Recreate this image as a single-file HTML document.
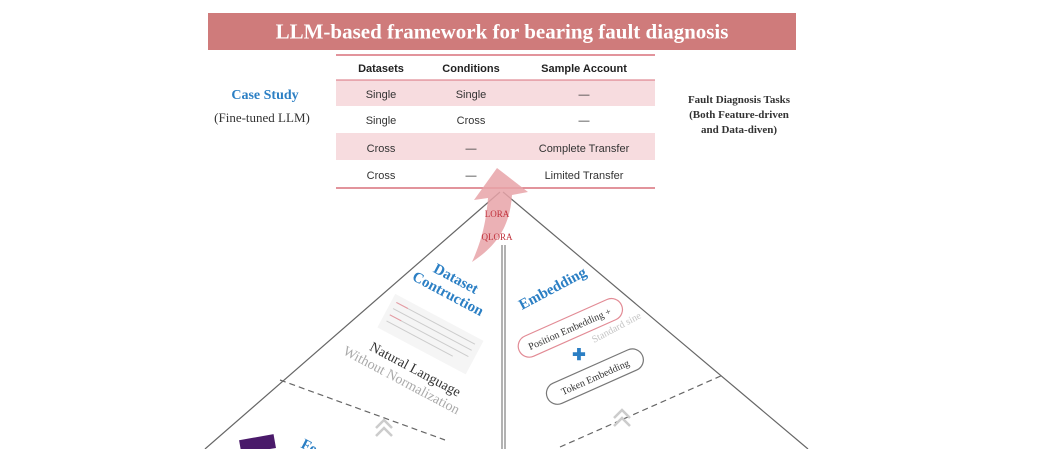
<!DOCTYPE html>
<html><head><meta charset="utf-8"><style>
html,body{margin:0;padding:0;background:#fff;width:1058px;height:449px;overflow:hidden}
svg{display:block}
.s{font-family:"Liberation Serif",serif}
.t{font-family:"Liberation Sans",sans-serif;font-size:11px;fill:#333}
</style></head><body>
<svg width="1058" height="449" viewBox="0 0 1058 449" xmlns="http://www.w3.org/2000/svg">
<rect x="208" y="13" width="588" height="37" fill="#cf7b7b"/>
<text x="502" y="38.5" text-anchor="middle" class="s" font-size="21" font-weight="bold" fill="#fff">LLM-based framework for bearing fault diagnosis</text>
<rect x="336" y="80" width="319" height="26" fill="#f7dcdf"/>
<rect x="336" y="133" width="319" height="27" fill="#f7dcdf"/>
<line x1="336" y1="55" x2="655" y2="55" stroke="#d9707c" stroke-width="1.5"/>
<line x1="336" y1="80" x2="655" y2="80" stroke="#d9707c" stroke-width="1"/>
<line x1="336" y1="188" x2="655" y2="188" stroke="#d9707c" stroke-width="1.5"/>
<g class="t" text-anchor="middle">
<text x="381" y="72" font-weight="bold" fill="#222">Datasets</text>
<text x="471" y="72" font-weight="bold" fill="#222">Conditions</text>
<text x="584" y="72" font-weight="bold" fill="#222">Sample Account</text>
<text x="381" y="98">Single</text><text x="471" y="98">Single</text><text x="584" y="98">—</text>
<text x="381" y="124">Single</text><text x="471" y="124">Cross</text><text x="584" y="124">—</text>
<text x="381" y="152">Cross</text><text x="471" y="152">—</text><text x="584" y="152">Complete Transfer</text>
<text x="381" y="179">Cross</text><text x="471" y="179">—</text><text x="584" y="179">Limited Transfer</text>
</g>
<text x="265" y="99" text-anchor="middle" class="s" font-size="14" font-weight="bold" fill="#2b7fc4">Case Study</text>
<text x="262" y="122" text-anchor="middle" class="s" font-size="13" fill="#333">(Fine-tuned LLM)</text>
<g class="s" font-size="11" font-weight="bold" fill="#333" text-anchor="middle">
<text x="739" y="103">Fault Diagnosis Tasks</text>
<text x="739" y="118">(Both Feature-driven</text>
<text x="739" y="133">and Data-diven)</text>
</g>
<line x1="500" y1="192" x2="205" y2="449" stroke="#666" stroke-width="1.2"/>
<line x1="503" y1="192" x2="808" y2="449" stroke="#666" stroke-width="1.2"/>
<line x1="502" y1="245" x2="502" y2="449" stroke="#999" stroke-width="1.5"/>
<line x1="505" y1="245" x2="505" y2="449" stroke="#999" stroke-width="1.5"/>
<line x1="280" y1="380" x2="445" y2="440" stroke="#666" stroke-width="1.2" stroke-dasharray="6,4"/>
<line x1="560" y1="447" x2="723" y2="375" stroke="#666" stroke-width="1.2" stroke-dasharray="6,4"/>
<path d="M472,262 C482,240 486,222 488,198 L474,200 L497,168 L528,192 L512,195 C510,225 498,245 472,262 Z" fill="#e8a3a8" opacity="0.85"/>
<text x="497" y="217" text-anchor="middle" class="s" font-size="9" fill="#c0303a">LORA</text>
<text x="497" y="240" text-anchor="middle" class="s" font-size="9" fill="#c0303a">QLORA</text>
<g transform="rotate(28 450 290)" class="s" text-anchor="middle">
<text x="450" y="282" font-size="15" font-weight="bold" fill="#2b7fc4">Dataset</text>
<text x="450" y="299" font-size="15" font-weight="bold" fill="#2b7fc4">Contruction</text>
</g>
<g transform="rotate(28 430 335)">
<rect x="380" y="315" width="100" height="38" fill="#f5f5f5"/>
<line x1="385" y1="322" x2="474" y2="322" stroke="#ccc"/><line x1="385" y1="329" x2="474" y2="329" stroke="#ccc"/>
<line x1="385" y1="336" x2="474" y2="336" stroke="#ccc"/><line x1="385" y1="343" x2="460" y2="343" stroke="#ccc"/>
<line x1="385" y1="322" x2="398" y2="322" stroke="#e89aa2"/><line x1="385" y1="336" x2="398" y2="336" stroke="#e89aa2"/>
</g>
<g transform="rotate(28 410 375)" class="s" text-anchor="middle">
<text x="412" y="372" font-size="14" fill="#333">Natural Language</text>
<text x="405" y="388" font-size="14" fill="#aaa">Without Normalization</text>
</g>
<path d="M376,428 L384,420 L392,428 M376,436 L384,428 L392,436" fill="none" stroke="#ccc" stroke-width="2.5"/>
<rect x="240" y="437" width="35" height="14" fill="#4a1a6a" transform="rotate(-10 258 444)"/>
<text x="300" y="447" class="s" font-size="15" font-weight="bold" fill="#2b7fc4" transform="rotate(28 300 447)">Feat</text>
<text x="522" y="310" class="s" font-size="15" font-weight="bold" fill="#2b7fc4" transform="rotate(-28 522 310)">Embedding</text>
<g transform="rotate(-24 568 330)">
<rect x="515" y="318" width="112" height="22" rx="11" fill="#fff" stroke="#e28b95" stroke-width="1.2"/>
<text x="570" y="333" text-anchor="middle" class="s" font-size="10" fill="#333">Position Embedding +</text>
</g>
<text x="594" y="343" class="s" font-size="10" fill="#c4c4c4" transform="rotate(-28 594 343)">Standard sine</text>
<text x="579" y="360" text-anchor="middle" font-size="16" font-weight="bold" fill="#2b7fc4" font-family="Liberation Sans,sans-serif">✚</text>
<g transform="rotate(-24 594 377)">
<rect x="543" y="366" width="104" height="22" rx="11" fill="#fff" stroke="#777" stroke-width="1.2"/>
<text x="595" y="381" text-anchor="middle" class="s" font-size="10" fill="#333">Token Embedding</text>
</g>
<path d="M614,418 L622,410 L630,418 M614,426 L622,418 L630,426" fill="none" stroke="#ccc" stroke-width="2.5"/>
</svg>
</body></html>
